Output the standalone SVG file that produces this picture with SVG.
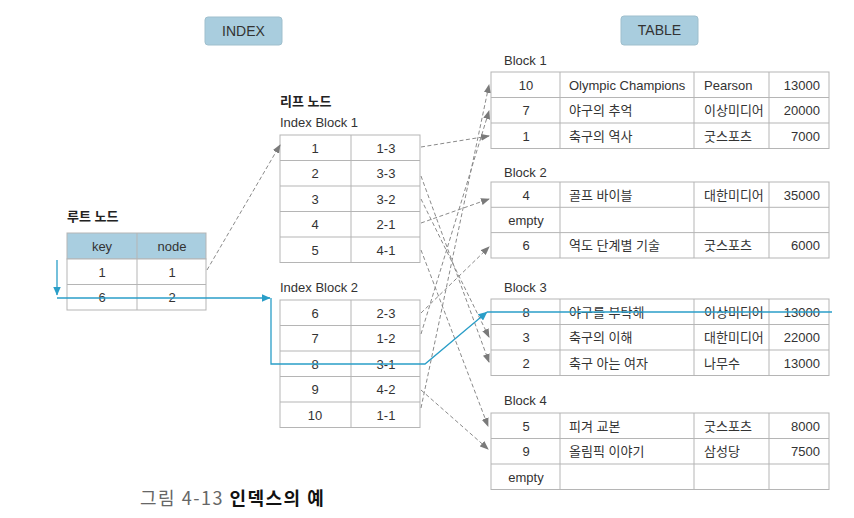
<svg xmlns="http://www.w3.org/2000/svg" width="854" height="518" viewBox="0 0 854 518">
<style>
text{font-family:"Liberation Sans","Noto Sans CJK KR",Arial,sans-serif;fill:#333;}
.t{font-size:13px;}
.c{text-anchor:middle;}
.r{text-anchor:end;}
.b{font-weight:bold;font-size:13px;fill:#222;}
.cell{fill:#fff;stroke:#b5b5b5;stroke-width:1;}
.hd{fill:#a9cee0;stroke:#b5b5b5;stroke-width:1;}
.gl{stroke:#b5b5b5;stroke-width:1;fill:none;}
.tag{fill:#a9cdde;stroke:#9fbfcd;stroke-width:1;}
.dash{fill:none;stroke:#8a8a8a;stroke-width:1;stroke-dasharray:4 2.5;marker-end:url(#ga);}
.blue{fill:none;stroke:#2a9ec8;stroke-width:1.3;}
</style>
<defs>
<marker id="ga" markerUnits="userSpaceOnUse" markerWidth="9" markerHeight="7" refX="8" refY="3.5" orient="auto"><path d="M0,0 L9,3.5 L0,7 z" fill="#7a7a7a"/></marker>
<marker id="ba" markerUnits="userSpaceOnUse" markerWidth="9" markerHeight="8" refX="8.5" refY="4" orient="auto"><path d="M0,0 L9,4 L0,8 z" fill="#2a9ec8"/></marker>
</defs>
<rect width="854" height="518" fill="#fff"/>

<g id="index-header">
<rect class="tag" x="205" y="17" width="77" height="28" rx="3"/>
<text x="243.5" y="36" class="c" style="font-size:14px">INDEX</text>
</g>
<g id="table-header">
<rect class="tag" x="621" y="16" width="77" height="29" rx="3"/>
<text x="659.5" y="35" class="c" style="font-size:14px">TABLE</text>
</g>

<g id="root-node">
<text x="67" y="221" class="b">루트 노드</text>
<rect class="hd" x="67" y="233" width="139" height="26"/>
<rect class="cell" x="67" y="259" width="139" height="51"/>
<path class="gl" d="M137,233 V310 M67,284.5 H206"/>
<text class="t c" x="102" y="251">key</text>
<text class="t c" x="172" y="251">node</text>
<text class="t c" x="102" y="276.5">1</text>
<text class="t c" x="172" y="276.5">1</text>
<text class="t c" x="102" y="302">6</text>
<text class="t c" x="172" y="302">2</text>
</g>

<g id="index-block-1">
<text x="280" y="106" class="b">리프 노드</text>
<text x="280" y="127" class="t">Index Block 1</text>
<rect class="cell" x="280" y="135" width="140" height="127.5"/>
<path class="gl" d="M351,135 V262.5 M280,160.5 H420 M280,186 H420 M280,211.5 H420 M280,237 H420"/>
<text class="t c" x="315" y="152.5">1</text><text class="t c" x="386" y="152.5">1-3</text>
<text class="t c" x="315" y="178">2</text><text class="t c" x="386" y="178">3-3</text>
<text class="t c" x="315" y="203.5">3</text><text class="t c" x="386" y="203.5">3-2</text>
<text class="t c" x="315" y="229">4</text><text class="t c" x="386" y="229">2-1</text>
<text class="t c" x="315" y="254.5">5</text><text class="t c" x="386" y="254.5">4-1</text>
</g>

<g id="index-block-2">
<text x="280" y="292" class="t">Index Block 2</text>
<rect class="cell" x="280" y="300" width="140" height="127.5"/>
<path class="gl" d="M351,300 V427.5 M280,325.5 H420 M280,351 H420 M280,376.5 H420 M280,402 H420"/>
<text class="t c" x="315" y="317.5">6</text><text class="t c" x="386" y="317.5">2-3</text>
<text class="t c" x="315" y="343">7</text><text class="t c" x="386" y="343">1-2</text>
<text class="t c" x="315" y="368.5">8</text><text class="t c" x="386" y="368.5">3-1</text>
<text class="t c" x="315" y="394">9</text><text class="t c" x="386" y="394">4-2</text>
<text class="t c" x="315" y="419.5">10</text><text class="t c" x="386" y="419.5">1-1</text>
</g>

<g id="block-1">
<text x="504" y="65" class="t">Block 1</text>
<rect class="cell" x="491" y="72" width="338" height="76.5"/>
<path class="gl" d="M560,72 V148.5 M694,72 V148.5 M769,72 V148.5 M491,97.5 H829 M491,123 H829"/>
<text class="t c" x="526" y="89.5">10</text><text class="t" x="569" y="89.5">Olympic Champions</text><text class="t" x="704" y="89.5">Pearson</text><text class="t r" x="820" y="89.5">13000</text>
<text class="t c" x="526" y="115">7</text><text class="t" x="569" y="115">야구의 추억</text><text class="t" x="704" y="115">이상미디어</text><text class="t r" x="820" y="115">20000</text>
<text class="t c" x="526" y="140.5">1</text><text class="t" x="569" y="140.5">축구의 역사</text><text class="t" x="704" y="140.5">굿스포츠</text><text class="t r" x="820" y="140.5">7000</text>
</g>

<g id="block-2">
<text x="504" y="177" class="t">Block 2</text>
<rect class="cell" x="491" y="182" width="338" height="76"/>
<path class="gl" d="M560,182 V258 M694,182 V258 M769,182 V258 M491,207.3 H829 M491,232.6 H829"/>
<text class="t c" x="526" y="199.5">4</text><text class="t" x="569" y="199.5">골프 바이블</text><text class="t" x="704" y="199.5">대한미디어</text><text class="t r" x="820" y="199.5">35000</text>
<text class="t c" x="526" y="224.5">empty</text>
<text class="t c" x="526" y="250">6</text><text class="t" x="569" y="250">역도 단계별 기술</text><text class="t" x="704" y="250">굿스포츠</text><text class="t r" x="820" y="250">6000</text>
</g>

<g id="block-3">
<text x="504" y="292" class="t">Block 3</text>
<rect class="cell" x="491" y="299" width="338" height="76.5"/>
<path class="gl" d="M560,299 V375.5 M694,299 V375.5 M769,299 V375.5 M491,324.5 H829 M491,350 H829"/>
<text class="t c" x="526" y="316.5">8</text><text class="t" x="569" y="316.5">야구를 부탁해</text><text class="t" x="704" y="316.5">이상미디어</text><text class="t r" x="820" y="316.5">13000</text>
<text class="t c" x="526" y="342">3</text><text class="t" x="569" y="342">축구의 이해</text><text class="t" x="704" y="342">대한미디어</text><text class="t r" x="820" y="342">22000</text>
<text class="t c" x="526" y="367.5">2</text><text class="t" x="569" y="367.5">축구 아는 여자</text><text class="t" x="704" y="367.5">나무수</text><text class="t r" x="820" y="367.5">13000</text>
</g>

<g id="block-4">
<text x="504" y="405" class="t">Block 4</text>
<rect class="cell" x="491" y="413" width="338" height="76.5"/>
<path class="gl" d="M560,413 V489.5 M694,413 V489.5 M769,413 V489.5 M491,438.5 H829 M491,464 H829"/>
<text class="t c" x="526" y="430.5">5</text><text class="t" x="569" y="430.5">피겨 교본</text><text class="t" x="704" y="430.5">굿스포츠</text><text class="t r" x="820" y="430.5">8000</text>
<text class="t c" x="526" y="456">9</text><text class="t" x="569" y="456">올림픽 이야기</text><text class="t" x="704" y="456">삼성당</text><text class="t r" x="820" y="456">7500</text>
<text class="t c" x="526" y="481.5">empty</text>
</g>

<g id="connectors">
<path class="dash" d="M207,270 L280,145"/>
<path class="dash" d="M421,147 L489,136"/>
<path class="dash" d="M421,176 L489,362"/>
<path class="dash" d="M421,199 L489,337"/>
<path class="dash" d="M421,223 L489,199"/>
<path class="dash" d="M421,250 L488,426"/>
<path class="dash" d="M421,313 L489,247"/>
<path class="dash" d="M421,334 L489,111"/>
<path class="dash" d="M421,390 L488,449"/>
<path class="dash" d="M421,408 L489,85"/>
<path class="blue" d="M57,260 V295" marker-end="url(#ba)"/>
<path class="blue" d="M57,298 H270" marker-end="url(#ba)"/>
<path class="blue" d="M271,298 V364 H425 L487,312" marker-end="url(#ba)"/>
<path class="blue" d="M487,312 H832"/>
</g>

<g id="caption">
<text x="140" y="505" style="font-family:'Noto Sans CJK KR','Liberation Sans',sans-serif;font-size:18px;letter-spacing:1.5px;fill:#666">그림 4-13 <tspan style="fill:#111;font-weight:bold">인덱스의 예</tspan></text>
</g>
</svg>
